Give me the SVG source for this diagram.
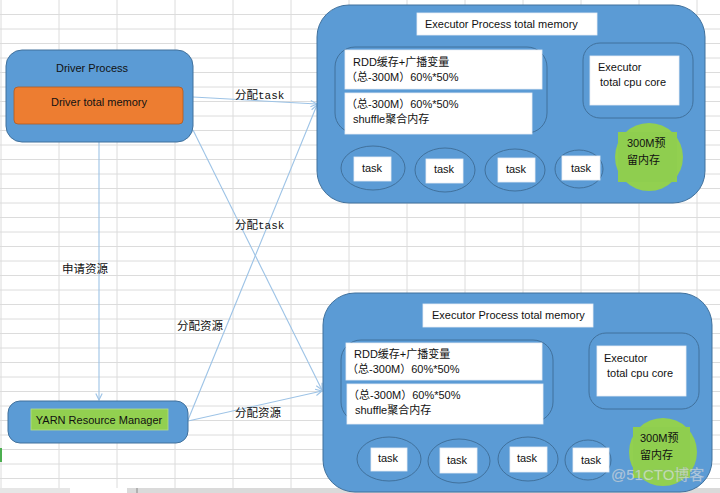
<svg xmlns="http://www.w3.org/2000/svg" width="720" height="493" viewBox="0 0 720 493">
<defs>
<style>
.grid{stroke:#DCDCDC;stroke-width:1}
.proc{fill:#5B9BD5;stroke:#41719C;stroke-width:1}
.inner{fill:#5B9BD5;stroke:#41719C;stroke-width:1}
.wbox{fill:#FFFFFF;stroke:#E8EEF5;stroke-width:0.8}
.t{font-family:"Liberation Sans","Noto Sans CJK SC",sans-serif;font-size:11px;fill:#111}
.lbl{font-family:"Noto Sans CJK SC","Liberation Serif",sans-serif;font-size:11.5px;fill:#111}
.mono{font-family:"Liberation Mono","Noto Sans CJK SC",monospace;font-size:11px}
.conn{stroke:#9DC3E6;stroke-width:1.1;fill:none;marker-end:url(#arr)}
.ell{fill:#5B9BD5;stroke:#41719C;stroke-width:1}
.grn{fill:#92D050}
</style>
<marker id="arr" viewBox="0 0 10 10" refX="9" refY="5" markerWidth="8" markerHeight="8" orient="auto" markerUnits="userSpaceOnUse">
<polyline points="1,1 9,5 1,9" fill="none" stroke="#9DC3E6" stroke-width="1.4"/>
</marker>
</defs>
<rect width="720" height="493" fill="#FFFFFF"/>
<g id="grid">
<path class="grid" d="M1 0V488M59 0V488M117 0V488M175 0V488M233 0V488M291 0V488M349 0V488M407 0V488M465 0V488M523 0V488M581 0V488M639 0V488M697 0V488"/>
<path class="grid" d="M0 14.5H720M0 29H720M0 43.5H720M0 58H720M0 72.5H720M0 87H720M0 101.5H720M0 116H720M0 130.5H720M0 145H720M0 159.5H720M0 174H720M0 188.5H720M0 203H720M0 217.5H720M0 232H720M0 246.5H720M0 261H720M0 275.5H720M0 290H720M0 304.5H720M0 319H720M0 333.5H720M0 348H720M0 362.5H720M0 377H720M0 391.5H720M0 406H720M0 420.5H720M0 435H720M0 449.5H720M0 464H720M0 478.5H720"/>
<rect x="0" y="448" width="2" height="14" fill="#4CAF50"/>
<rect x="0" y="488" width="70" height="5" fill="#E6E6E6"/>
<rect x="127" y="488" width="593" height="5" fill="#DADADA"/>
<line x1="137" y1="488" x2="137" y2="493" stroke="#888" stroke-width="1"/>
</g>
<g id="connectors">
<line class="conn" x1="193" y1="97" x2="317" y2="104"/>
<line class="conn" x1="193" y1="130" x2="322" y2="390"/>
<line class="conn" x1="188" y1="420" x2="317" y2="105"/>
<line class="conn" x1="188" y1="421" x2="322" y2="391"/>
<line class="conn" x1="99" y1="142" x2="99" y2="400"/>
<text class="lbl" x="235" y="99">分配<tspan class="mono">task</tspan></text>
<text class="lbl" x="235" y="229">分配<tspan class="mono">task</tspan></text>
<text class="lbl" x="62" y="273">申请资源</text>
<text class="lbl" x="177" y="330">分配资源</text>
<text class="lbl" x="235" y="417">分配资源</text>
</g>
<g id="driver">
<rect class="proc" x="6" y="50" width="187" height="92" rx="16"/>
<text class="t" x="92" y="72" text-anchor="middle" font-size="10.5">Driver Process</text>
<rect x="14" y="87" width="169" height="37" rx="4" fill="#ED7D31" stroke="#AE5A21" stroke-width="0.8"/>
<text class="t" x="99" y="106" text-anchor="middle">Driver total memory</text>
</g>
<g id="yarn">
<rect class="proc" x="8" y="401" width="180" height="42" rx="12"/>
<rect x="31" y="409" width="137" height="21" fill="#92D050" stroke="#B5DC8A" stroke-width="0.8"/>
<text class="t" x="99" y="424" text-anchor="middle" font-size="10.5">YARN Resource Manager</text>
</g>
<g id="executor1">
<rect class="proc" x="317" y="5" width="388" height="198" rx="32"/>
<rect class="wbox" x="417" y="13" width="180" height="22"/>
<text class="t" x="425" y="28" font-size="10.7">Executor Process total memory</text>
<rect class="inner" x="335" y="47" width="212" height="86" rx="20"/>
<rect class="wbox" x="345" y="50" width="197" height="39"/>
<text class="t" x="353" y="66">RDD缓存+广播变量</text>
<text class="t" x="346" y="81">（总-300M）60%*50%</text>
<rect class="wbox" x="345" y="93" width="187" height="41"/>
<text class="t" x="346" y="108">（总-300M）60%*50%</text>
<text class="t" x="353" y="123">shuffle聚合内存</text>
<rect class="inner" x="583" y="43" width="110" height="75" rx="17"/>
<rect class="wbox" x="590" y="56" width="89" height="49"/>
<text class="t" x="598" y="71">Executor</text>
<text class="t" x="600" y="86">total cpu core</text>
<ellipse class="ell" cx="373" cy="168" rx="32" ry="22"/>
<rect class="wbox" x="354" y="157" width="37" height="24"/>
<text class="t" x="372" y="172" text-anchor="middle">task</text>
<ellipse class="ell" cx="445" cy="170" rx="30" ry="22"/>
<rect class="wbox" x="426" y="159" width="37" height="24"/>
<text class="t" x="444" y="173" text-anchor="middle">task</text>
<ellipse class="ell" cx="515" cy="170" rx="30" ry="21"/>
<rect class="wbox" x="498" y="158" width="37" height="24"/>
<text class="t" x="516" y="173" text-anchor="middle">task</text>
<ellipse class="ell" cx="579" cy="169" rx="24" ry="19"/>
<rect class="wbox" x="562" y="156" width="38" height="24"/>
<text class="t" x="581" y="172" text-anchor="middle">task</text>
<circle class="grn" cx="649" cy="157" r="34"/>
<rect x="618" y="132" width="59" height="50" fill="#8FCE4F"/>
<text class="t" x="627" y="147" font-size="12">300M预</text>
<text class="t" x="627" y="164" font-size="12">留内存</text>
</g>
<g id="executor2">
<rect class="proc" x="323" y="293" width="389" height="199" rx="32"/>
<rect class="wbox" x="423" y="304" width="170" height="23"/>
<text class="t" x="432" y="319" font-size="10.7">Executor Process total memory</text>
<rect class="inner" x="341" y="340" width="212" height="82" rx="20"/>
<rect class="wbox" x="346" y="343" width="196" height="37"/>
<text class="t" x="354" y="358">RDD缓存+广播变量</text>
<text class="t" x="347" y="373">（总-300M）60%*50%</text>
<rect class="wbox" x="347" y="384" width="196" height="40"/>
<text class="t" x="348" y="399">（总-300M）60%*50%</text>
<text class="t" x="355" y="414">shuffle聚合内存</text>
<rect class="inner" x="589" y="333" width="110" height="76" rx="17"/>
<rect class="wbox" x="597" y="346" width="89" height="50"/>
<text class="t" x="604" y="362">Executor</text>
<text class="t" x="607" y="377">total cpu core</text>
<ellipse class="ell" cx="389" cy="459" rx="32" ry="22"/>
<rect class="wbox" x="371" y="448" width="36" height="23"/>
<text class="t" x="388" y="462" text-anchor="middle">task</text>
<ellipse class="ell" cx="459" cy="461" rx="31" ry="22"/>
<rect class="wbox" x="440" y="448" width="37" height="25"/>
<text class="t" x="457" y="464" text-anchor="middle">task</text>
<ellipse class="ell" cx="528" cy="459" rx="30" ry="22"/>
<rect class="wbox" x="510" y="447" width="37" height="25"/>
<text class="t" x="527" y="462" text-anchor="middle">task</text>
<ellipse class="ell" cx="588" cy="460" rx="23" ry="20"/>
<rect class="wbox" x="573" y="448" width="36" height="24"/>
<text class="t" x="591" y="464" text-anchor="middle">task</text>
<circle class="grn" cx="663" cy="452" r="34"/>
<rect x="633" y="427" width="57" height="51" fill="#8FCE4F"/>
<text class="t" x="640" y="442" font-size="12">300M预</text>
<text class="t" x="640" y="459" font-size="12">留内存</text>
<text x="611" y="480" font-family="Liberation Sans,Noto Sans CJK SC,sans-serif" font-size="15" fill="#FFFFFF" fill-opacity="0.55" stroke="#9AA8B5" stroke-width="0.4" stroke-opacity="0.6">@51CTO博客</text>
</g>
</svg>
